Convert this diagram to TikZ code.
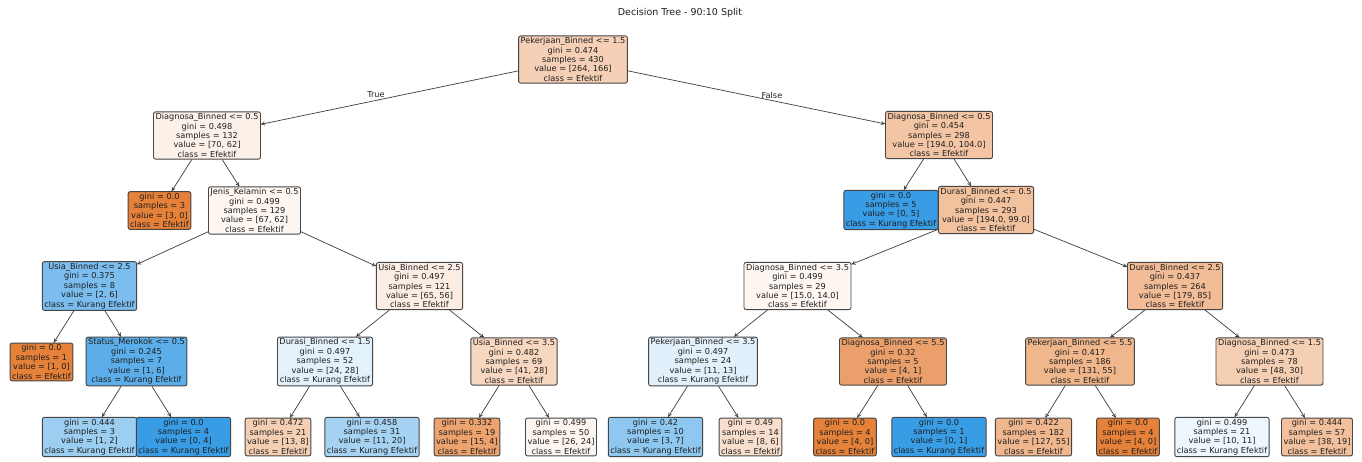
\documentclass[tikz,border=0pt]{standalone}
\usepackage{fontspec}
\setmainfont{DejaVu Sans}
\usetikzlibrary{arrows.meta}
\definecolor{skO}{RGB}{229,129,57}
\definecolor{skB}{RGB}{57,157,229}
\definecolor{bordercol}{RGB}{70,70,70}
\definecolor{edgecol}{RGB}{60,60,60}
\newcommand{\treefont}{\fontsize{8.2}{9.4}\selectfont}
\tikzset{
  tn/.style={draw=bordercol, rounded corners=2pt, line width=0.9pt, align=center,
    inner xsep=2pt, inner ysep=1.6pt, font=\treefont, text=black!88},
  O/.style={tn, fill=skO!#1!white},
  B/.style={tn, fill=skB!#1!white},
  edge/.style={draw=edgecol, line width=0.7pt, -{To[length=4pt,width=4pt]}},
  lbl/.style={font=\treefont, text=black!88, inner sep=0pt}
}
\begin{document}
\begin{tikzpicture}[x=1pt,y=-1pt]
\useasboundingbox (0,0) rectangle (1362,461);
\fill[white] (0,0) rectangle (1362,461);
\node[font=\fontsize{9.5}{11}\selectfont, text=black!88] (title) at (680,13) {Decision Tree - 90:10 Split};
% level 0
\node[O=37] (n0) at (573,59.5) {Pekerjaan\_Binned <= 1.5\\gini = 0.474\\samples = 430\\value = [264, 166]\\class = Efektif};
% level 1
\node[O=11] (n1) at (207,135.5) {Diagnosa\_Binned <= 0.5\\gini = 0.498\\samples = 132\\value = [70, 62]\\class = Efektif};
\node[O=46] (n2) at (939,135) {Diagnosa\_Binned <= 0.5\\gini = 0.454\\samples = 298\\value = [194.0, 104.0]\\class = Efektif};
% level 2
\node[O=100] (n3) at (159.5,210.5) {gini = 0.0\\samples = 3\\value = [3, 0]\\class = Efektif};
\node[O=7] (n4) at (254.5,210.5) {Jenis\_Kelamin <= 0.5\\gini = 0.499\\samples = 129\\value = [67, 62]\\class = Efektif};
\node[B=100] (n5) at (891,210) {gini = 0.0\\samples = 5\\value = [0, 5]\\class = Kurang Efektif};
\node[O=49] (n6) at (986,210) {Durasi\_Binned <= 0.5\\gini = 0.447\\samples = 293\\value = [194.0, 99.0]\\class = Efektif};
% level 3
\node[B=67] (n7) at (89.5,286) {Usia\_Binned <= 2.5\\gini = 0.375\\samples = 8\\value = [2, 6]\\class = Kurang Efektif};
\node[O=14] (n8) at (419.5,286) {Usia\_Binned <= 2.5\\gini = 0.497\\samples = 121\\value = [65, 56]\\class = Efektif};
\node[O=7] (n9) at (797.5,286) {Diagnosa\_Binned <= 3.5\\gini = 0.499\\samples = 29\\value = [15.0, 14.0]\\class = Efektif};
\node[O=53] (n10) at (1175,286) {Durasi\_Binned <= 2.5\\gini = 0.437\\samples = 264\\value = [179, 85]\\class = Efektif};
% level 4
\node[O=100] (n11) at (41.5,362) {gini = 0.0\\samples = 1\\value = [1, 0]\\class = Efektif};
\node[B=83] (n12) at (136.5,361.5) {Status\_Merokok <= 0.5\\gini = 0.245\\samples = 7\\value = [1, 6]\\class = Kurang Efektif};
\node[B=14] (n13) at (325,361.5) {Durasi\_Binned <= 1.5\\gini = 0.497\\samples = 52\\value = [24, 28]\\class = Kurang Efektif};
\node[O=32] (n14) at (514,361.5) {Usia\_Binned <= 3.5\\gini = 0.482\\samples = 69\\value = [41, 28]\\class = Efektif};
\node[B=15] (n15) at (703,361.5) {Pekerjaan\_Binned <= 3.5\\gini = 0.497\\samples = 24\\value = [11, 13]\\class = Kurang Efektif};
\node[O=75] (n16) at (893,361.5) {Diagnosa\_Binned <= 5.5\\gini = 0.32\\samples = 5\\value = [4, 1]\\class = Efektif};
\node[O=58] (n17) at (1080,361.5) {Pekerjaan\_Binned <= 5.5\\gini = 0.417\\samples = 186\\value = [131, 55]\\class = Efektif};
\node[O=38] (n18) at (1269.5,361.5) {Diagnosa\_Binned <= 1.5\\gini = 0.473\\samples = 78\\value = [48, 30]\\class = Efektif};
% level 5
\node[B=50] (n19) at (89.5,437) {gini = 0.444\\samples = 3\\value = [1, 2]\\class = Kurang Efektif};
\node[B=100] (n20) at (183.5,437) {gini = 0.0\\samples = 4\\value = [0, 4]\\class = Kurang Efektif};
\node[O=38] (n21) at (278,437) {gini = 0.472\\samples = 21\\value = [13, 8]\\class = Efektif};
\node[B=45] (n22) at (372,437) {gini = 0.458\\samples = 31\\value = [11, 20]\\class = Kurang Efektif};
\node[O=73] (n23) at (467,437) {gini = 0.332\\samples = 19\\value = [15, 4]\\class = Efektif};
\node[O=8] (n24) at (561,437) {gini = 0.499\\samples = 50\\value = [26, 24]\\class = Efektif};
\node[B=57] (n25) at (655.5,437) {gini = 0.42\\samples = 10\\value = [3, 7]\\class = Kurang Efektif};
\node[O=25] (n26) at (750.5,437) {gini = 0.49\\samples = 14\\value = [8, 6]\\class = Efektif};
\node[O=100] (n27) at (845,437) {gini = 0.0\\samples = 4\\value = [4, 0]\\class = Efektif};
\node[B=100] (n28) at (939,437) {gini = 0.0\\samples = 1\\value = [0, 1]\\class = Kurang Efektif};
\node[O=57] (n29) at (1033.5,437) {gini = 0.422\\samples = 182\\value = [127, 55]\\class = Efektif};
\node[O=100] (n30) at (1128,437) {gini = 0.0\\samples = 4\\value = [4, 0]\\class = Efektif};
\node[B=9] (n31) at (1222,437) {gini = 0.499\\samples = 21\\value = [10, 11]\\class = Kurang Efektif};
\node[O=50] (n32) at (1317,437) {gini = 0.444\\samples = 57\\value = [38, 19]\\class = Efektif};
% edges
\draw[edge] (n0) -- (n1);
\draw[edge] (n0) -- (n2);
\node[lbl] (tlab) at (376,95) {True};
\node[lbl] (flab) at (772,95) {False};
\draw[edge] (n1) -- (n3);
\draw[edge] (n1) -- (n4);
\draw[edge] (n2) -- (n5);
\draw[edge] (n2) -- (n6);
\draw[edge] (n4) -- (n7);
\draw[edge] (n4) -- (n8);
\draw[edge] (n6) -- (n9);
\draw[edge] (n6) -- (n10);
\draw[edge] (n7) -- (n11);
\draw[edge] (n7) -- (n12);
\draw[edge] (n8) -- (n13);
\draw[edge] (n8) -- (n14);
\draw[edge] (n9) -- (n15);
\draw[edge] (n9) -- (n16);
\draw[edge] (n10) -- (n17);
\draw[edge] (n10) -- (n18);
\draw[edge] (n12) -- (n19);
\draw[edge] (n12) -- (n20);
\draw[edge] (n13) -- (n21);
\draw[edge] (n13) -- (n22);
\draw[edge] (n14) -- (n23);
\draw[edge] (n14) -- (n24);
\draw[edge] (n15) -- (n25);
\draw[edge] (n15) -- (n26);
\draw[edge] (n16) -- (n27);
\draw[edge] (n16) -- (n28);
\draw[edge] (n17) -- (n29);
\draw[edge] (n17) -- (n30);
\draw[edge] (n18) -- (n31);
\draw[edge] (n18) -- (n32);
\end{tikzpicture}
\end{document}
